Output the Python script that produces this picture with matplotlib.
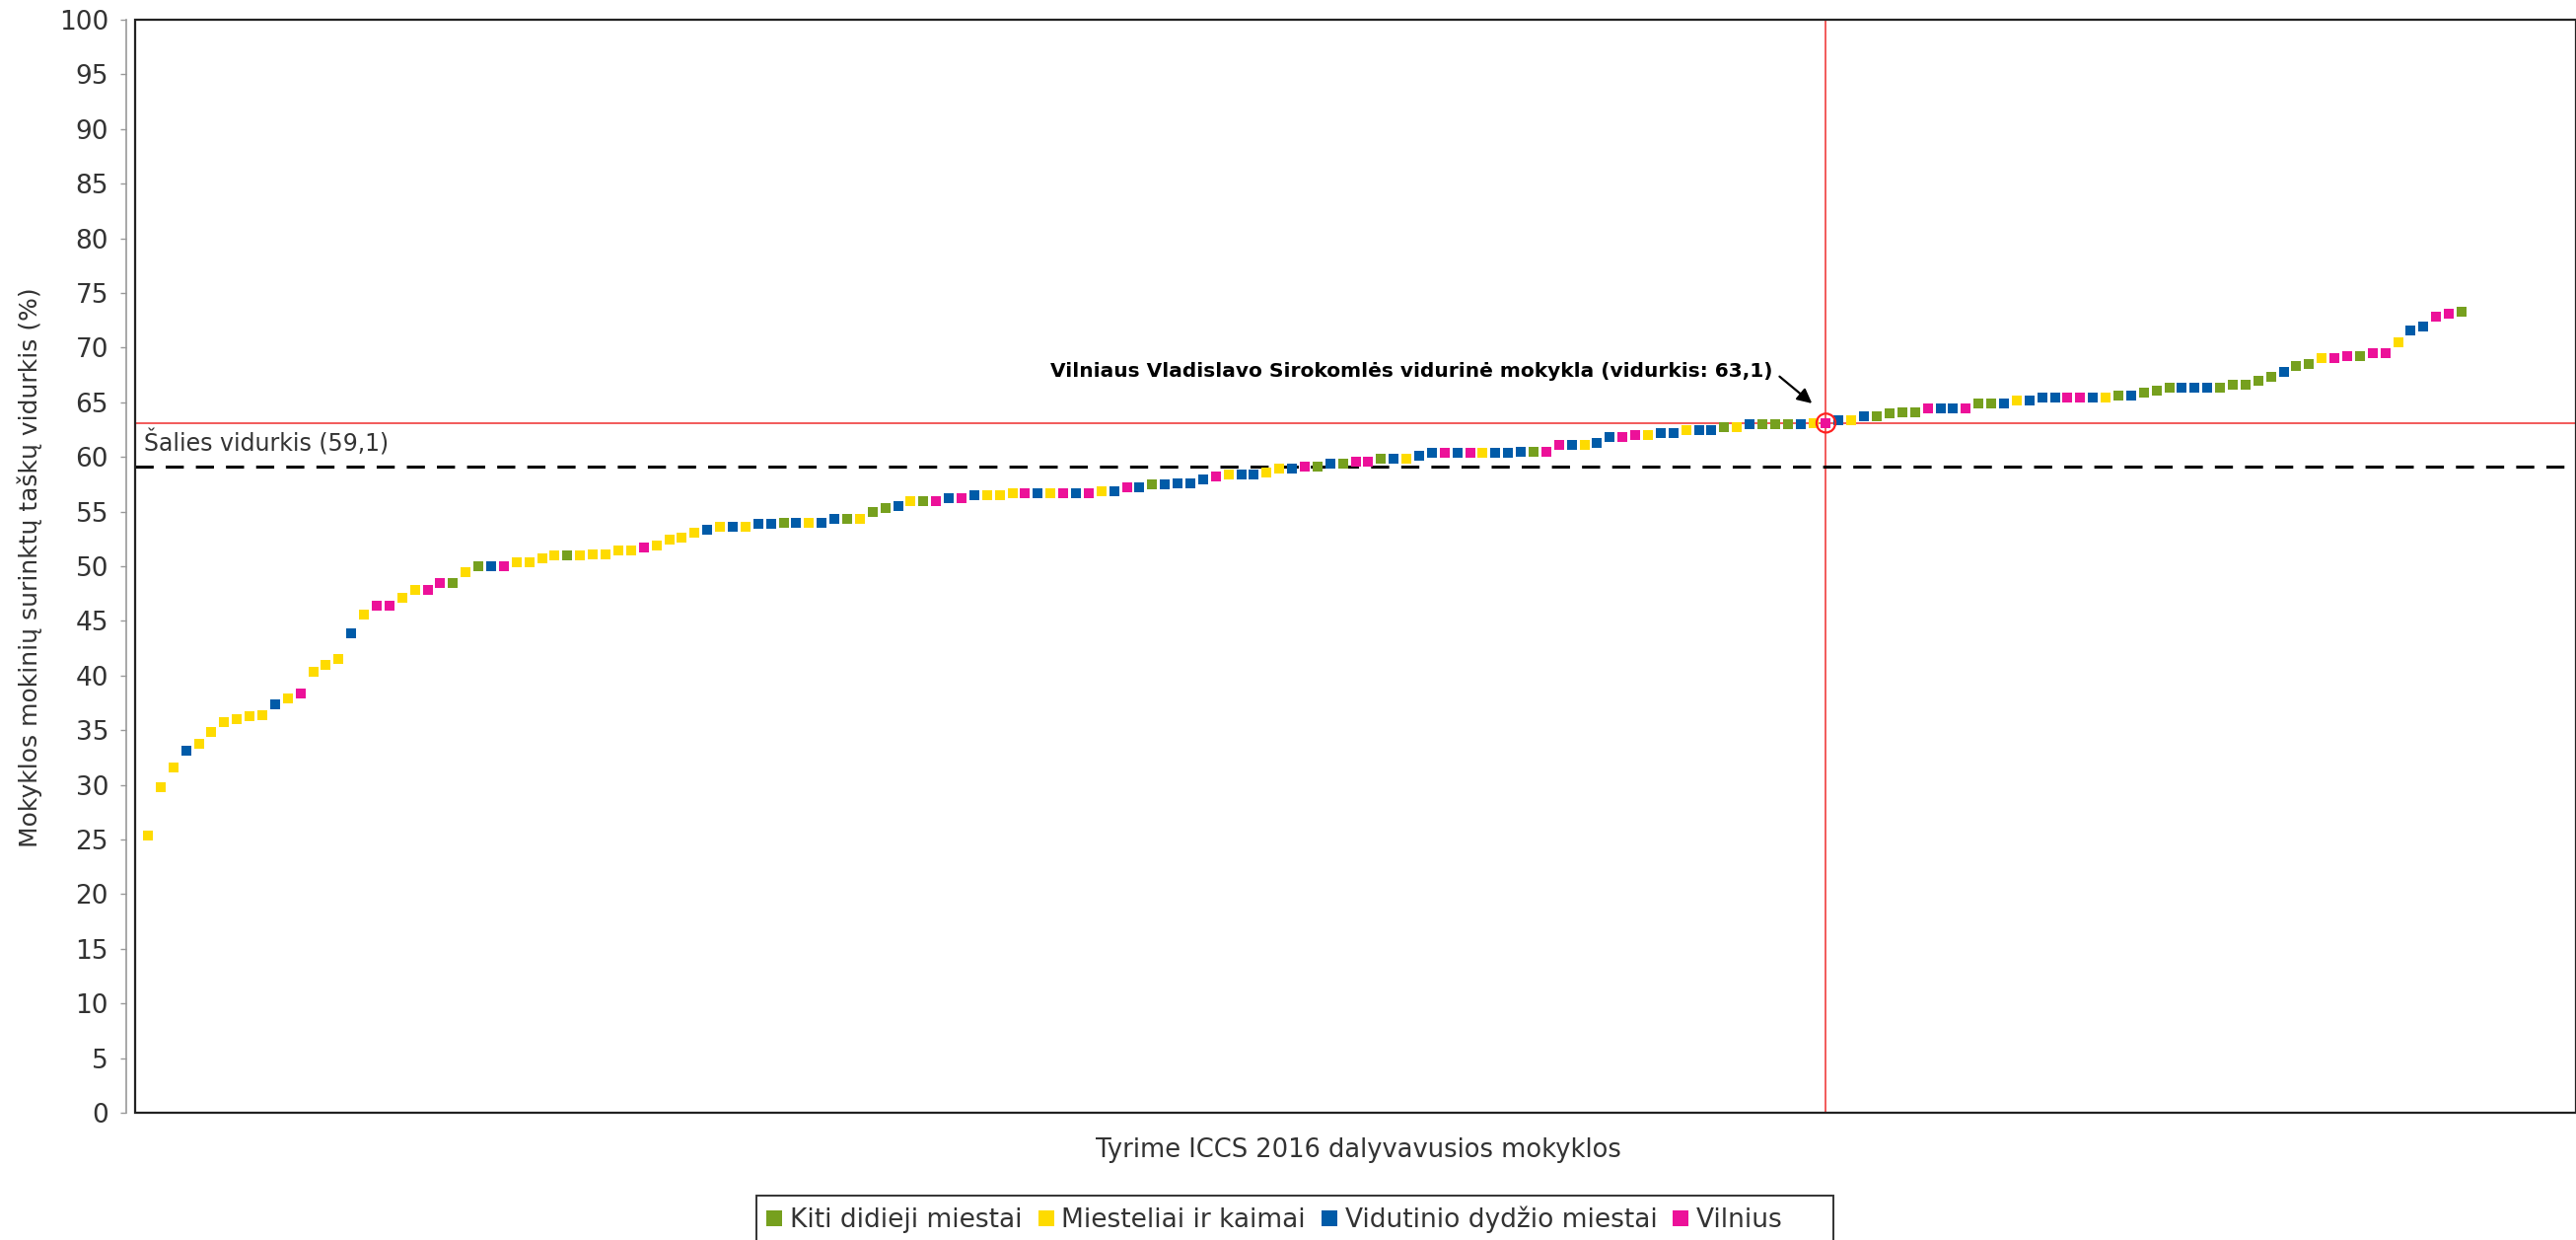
import matplotlib
import numpy as np

matplotlib.use("Agg")
import matplotlib.pyplot as plt
from matplotlib.lines import Line2D
from matplotlib.patches import Rectangle

# Region codes: G = Kiti didieji miestai, Y = Miesteliai ir kaimai,
# B = Vidutinio dydžio miestai, M = Vilnius
REGION_NAMES = {
    "G": "Kiti didieji miestai",
    "Y": "Miesteliai ir kaimai",
    "B": "Vidutinio dydžio miestai",
    "M": "Vilnius",
}
REGION_COLORS = {"G": "#76a01e", "Y": "#fedb00", "B": "#005ba8", "M": "#ec1199"}

# Schools sorted by average score (%)
school_region = list(
    "YYYBYYYYYYBYMYYYBYMMYYMMGYGBMYYYYGYYYYYMYYYYBYBYBBGBYBBGYGGBYGMBMBYYYMBYMBMYBMBGBBBBMYBBYYBMGBGMMGBYBBMBMYBBBGMMBYBBMMYBBYBBGYBGGGBYMBYBGGGGMBBMGGBYBBBMMBYGBGGGBBBGGGGGBGGYMMGMMYBBMMG"
)
school_score = [
    25.4, 29.8, 31.6, 33.1, 33.8, 34.8, 35.7, 36.0, 36.3, 36.4,
    37.4, 37.9, 38.4, 40.3, 41.0, 41.5, 43.9, 45.6, 46.4, 46.4,
    47.1, 47.8, 47.8, 48.5, 48.5, 49.5, 50.0, 50.0, 50.0, 50.4,
    50.4, 50.7, 51.0, 51.0, 51.0, 51.1, 51.1, 51.4, 51.4, 51.7,
    51.9, 52.4, 52.6, 53.1, 53.3, 53.6, 53.6, 53.6, 53.9, 53.9,
    54.0, 54.0, 54.0, 54.0, 54.3, 54.3, 54.3, 55.0, 55.3, 55.5,
    56.0, 56.0, 56.0, 56.2, 56.2, 56.5, 56.5, 56.5, 56.7, 56.7,
    56.7, 56.7, 56.7, 56.7, 56.7, 56.9, 56.9, 57.2, 57.2, 57.5,
    57.5, 57.6, 57.6, 57.9, 58.2, 58.4, 58.4, 58.4, 58.6, 58.9,
    58.9, 59.1, 59.1, 59.4, 59.4, 59.6, 59.6, 59.8, 59.8, 59.8,
    60.1, 60.4, 60.4, 60.4, 60.4, 60.4, 60.4, 60.4, 60.5, 60.5,
    60.5, 61.1, 61.1, 61.1, 61.3, 61.8, 61.8, 62.0, 62.0, 62.2,
    62.2, 62.5, 62.5, 62.5, 62.7, 62.7, 63.0, 63.0, 63.0, 63.0,
    63.0, 63.1, 63.1, 63.4, 63.4, 63.7, 63.7, 64.0, 64.1, 64.1,
    64.4, 64.4, 64.4, 64.4, 64.9, 64.9, 64.9, 65.2, 65.2, 65.4,
    65.4, 65.4, 65.4, 65.4, 65.4, 65.6, 65.6, 65.9, 66.1, 66.3,
    66.3, 66.3, 66.3, 66.3, 66.6, 66.6, 67.0, 67.3, 67.8, 68.3,
    68.5, 69.0, 69.0, 69.2, 69.2, 69.5, 69.5, 70.5, 71.6, 71.9,
    72.8, 73.1, 73.3,
]

HIGHLIGHT_RANK = 133  # Vilniaus Vladislavo Sirokomlės vidurinė mokykla
HIGHLIGHT_SCORE = 63.1
NATIONAL_MEAN = 59.1

HIGHLIGHT_LABEL = "Vilniaus Vladislavo Sirokomlės vidurinė mokykla (vidurkis: 63,1)"
MEAN_LABEL = "Šalies vidurkis (59,1)"
Y_LABEL = "Mokyklos mokinių surinktų taškų vidurkis (%)"
X_LABEL = "Tyrime ICCS 2016 dalyvavusios mokyklos"
Y_TICKS = list(range(0, 101, 5))

TEXT_COLOR = "#333333"


def plot_schools() -> None:
    plt.rcParams["font.family"] = ["DejaVu Sans"]
    fig = plt.figure(figsize=(26.12, 12.57), dpi=100)
    ax = fig.add_axes([0.0525, 0.1026, 0.9475, 0.8815])

    ranks = np.arange(1, len(school_score) + 1)
    scores = np.array(school_score)
    regions = np.array(school_region)

    ax.axhline(HIGHLIGHT_SCORE, color="#f25a5a", lw=1.4, zorder=1)
    ax.axvline(HIGHLIGHT_RANK, color="#f25a5a", lw=1.4, zorder=1)
    ax.axhline(NATIONAL_MEAN, color="black", lw=2.2, dashes=(6, 4), zorder=2)

    for code in ["G", "Y", "B", "M"]:
        mask = regions == code
        ax.scatter(ranks[mask], scores[mask], marker="s", s=44,
                   color=REGION_COLORS[code], linewidths=0, zorder=3)

    ax.scatter([HIGHLIGHT_RANK], [HIGHLIGHT_SCORE], marker="o", s=190,
               facecolors="none", edgecolors="#ff2020", linewidths=1.6, zorder=4)

    ax.text(0.7, 60.5, MEAN_LABEL, fontsize=17, color=TEXT_COLOR,
            ha="left", va="baseline")

    ax.annotate(HIGHLIGHT_LABEL, xy=(131.9, 64.9), xytext=(128.8, 67.8),
                fontsize=14.5, fontweight="bold", color="black",
                ha="right", va="center",
                arrowprops=dict(arrowstyle="-|>", color="black", lw=1.6,
                                mutation_scale=22, shrinkA=4, shrinkB=0,
                                relpos=(1.0, 0.55)))

    ax.set_xlim(0, 192)
    ax.set_ylim(0, 100)
    ax.set_xticks([])
    ax.set_yticks(Y_TICKS)
    ax.tick_params(axis="y", direction="out", length=4, width=1,
                   color="#999999", labelcolor=TEXT_COLOR, labelsize=19, pad=9)

    for side in ["top", "right", "bottom"]:
        ax.spines[side].set_visible(False)
    ax.spines["left"].set_position(("outward", 6.5))
    ax.spines["left"].set_color("#999999")
    ax.spines["left"].set_linewidth(1.2)

    # Dark frame round the plot area
    ax.add_patch(Rectangle((0, 0), 1, 1, transform=ax.transAxes, fill=False,
                           edgecolor="#222222", linewidth=1.6, clip_on=False,
                           zorder=5))

    fig.text(0.0115, 0.5426, Y_LABEL, rotation=90, fontsize=18,
             color=TEXT_COLOR, ha="center", va="center")
    fig.text(0.5275, 0.0724, X_LABEL, fontsize=18.5, color=TEXT_COLOR,
             ha="center", va="center")

    handles = [
        Line2D([], [], marker="s", linestyle="none", markersize=12,
               markerfacecolor=REGION_COLORS[c], markeredgewidth=0,
               label=REGION_NAMES[c])
        for c in ["G", "Y", "B", "M"]
    ]
    # The original legend box leaves extra room after the last entry.
    handles[-1].set_label(REGION_NAMES["M"] + "     ")
    leg = fig.legend(handles=handles, loc="lower center", ncol=4,
                     bbox_to_anchor=(0.5027, -0.003), fontsize=19,
                     frameon=True, fancybox=False, edgecolor="black",
                     handlelength=0.6, handletextpad=0.3, columnspacing=0.6,
                     borderpad=0.4, borderaxespad=0)
    leg.get_frame().set_linewidth(1.4)
    for t in leg.get_texts():
        t.set_color(TEXT_COLOR)

    fig.savefig("out.png", dpi=100)
    plt.close(fig)
    print("Saved: out.png")


if __name__ == "__main__":
    plot_schools()
